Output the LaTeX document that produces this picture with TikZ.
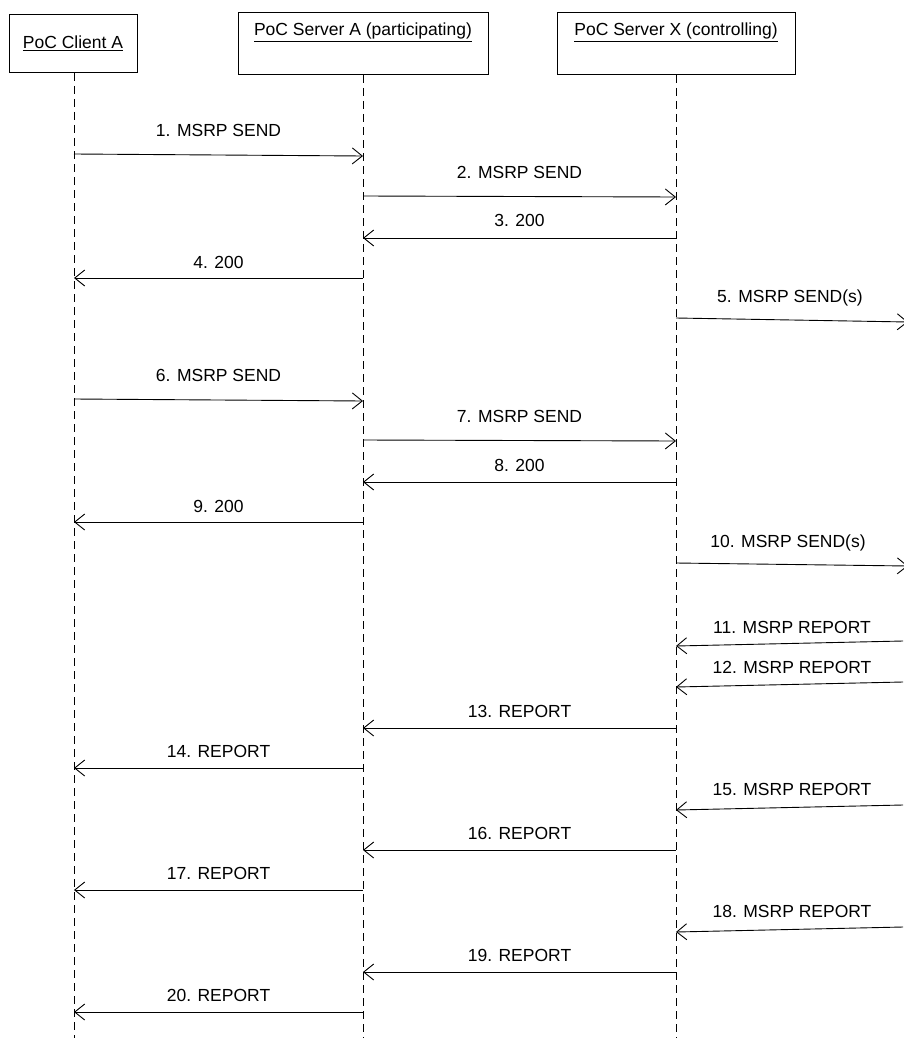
\documentclass[tikz,border=0pt]{standalone}
\usepackage{fontspec}
\setmainfont{Liberation Sans}
\usetikzlibrary{arrows.meta}
\begin{document}
\begin{tikzpicture}[x=1pt,y=-1pt,
  entity/.style={draw,line width=0.9pt,inner sep=0pt,font=\fontsize{17.5}{20}\selectfont},
  life/.style={line width=0.8pt,dash pattern=on 8pt off 5pt},
  msg/.style={line width=0.9pt,-{Straight Barb[length=10pt,width=16pt,line width=0.9pt]}},
  lbl/.style={font=\fontsize{17.5}{20}\selectfont,inner sep=0pt,anchor=base}]
\useasboundingbox (0,0) rectangle (903,1038);
% header boxes
\node[entity,minimum width=128pt,minimum height=58pt] (C) at (73,43) {\underline{PoC Client A}};
\node[entity,minimum width=250pt,minimum height=62pt] (A) at (363,43) {};
\node[entity,minimum width=238pt,minimum height=62pt] (X) at (676,43) {};
\node[lbl,font=\fontsize{17.5}{20}\selectfont] (At) at (363,36) {\underline{PoC Server A (participating)}};
\node[lbl,font=\fontsize{17.5}{20}\selectfont] (Xt) at (676,36) {\underline{PoC Server X (controlling)}};
% lifelines
\coordinate (Cb) at (74,1040);
\coordinate (Ab) at (363,1040);
\coordinate (Xb) at (676,1040);
\draw[life] (74,73) coordinate (Ct) -- (Cb);
\draw[life] (363,75) coordinate (Att) -- (Ab);
\draw[life] (676,75) coordinate (Xtt) -- (Xb);
% messages: number / x start / y start / x end / y end / label x / label y / text
\foreach \n/\xa/\ya/\xb/\yb/\lx/\ly/\txt in {
  1/74/154/363/156/218.5/130/{1. MSRP SEND},
  2/363/196/676/197/519.5/172/{2. MSRP SEND},
  3/676/238/363/238/519.5/220/{3. 200},
  4/363/278/74/278/218.5/262/{4. 200},
  5/676/318/908/322/790/296/{5. MSRP SEND(s)},
  6/74/399/363/401/218.5/375/{6. MSRP SEND},
  7/363/440/676/441/519.5/416/{7. MSRP SEND},
  8/676/482/363/482/519.5/465/{8. 200},
  9/363/522/74/522/218.5/506/{9. 200},
  10/676/563/908/566/788/541/{10. MSRP SEND(s)},
  11/903/641/676/646/792/627/{11. MSRP REPORT},
  12/903/682/676/687/792/667/{12. MSRP REPORT},
  13/676/728/363/728/519.5/711/{13. REPORT},
  14/363/768/74/768/218.5/751/{14. REPORT},
  15/903/805/676/810/792/789/{15. MSRP REPORT},
  16/676/850/363/850/519.5/833/{16. REPORT},
  17/363/890/74/890/218.5/873/{17. REPORT},
  18/903/927/676/932/792/911/{18. MSRP REPORT},
  19/676/972/363/972/519.5/955/{19. REPORT},
  20/363/1012/74/1012/218.5/995/{20. REPORT}}{
  \coordinate (ms\n) at (\xa,\ya);
  \coordinate (me\n) at (\xb,\yb);
  \draw[msg] (ms\n) -- (me\n);
  \node[lbl] (l\n) at (\lx,\ly+6.5) {\txt};
}
\end{tikzpicture}
\end{document}
